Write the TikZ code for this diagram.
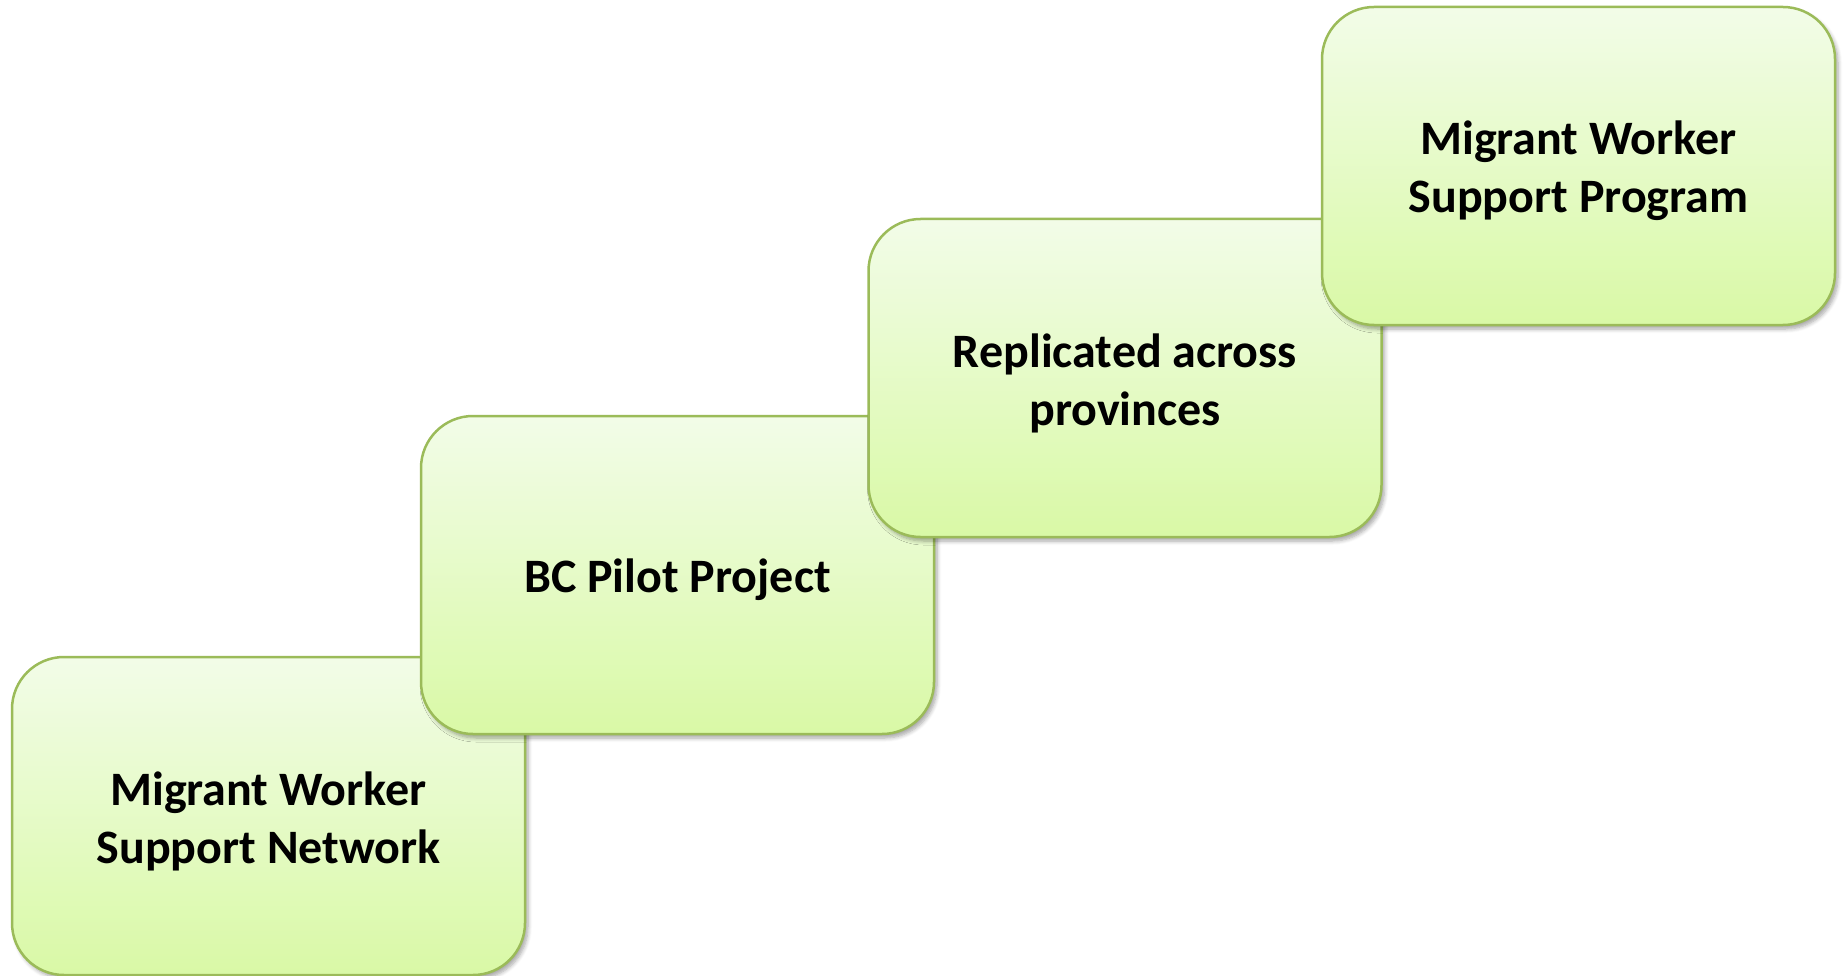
\documentclass[tikz,border=0pt]{standalone}
\usepackage{fontspec}
\setmainfont{Carlito}
\usetikzlibrary{shadows.blur}
\definecolor{boxline}{HTML}{9BBB59}
\definecolor{boxtop}{HTML}{F2FCE8}
\definecolor{boxbot}{HTML}{D9F9A6}
\tikzset{
  stepbox/.style={draw=boxline, line width=2.5pt, rounded corners=52pt,
    top color=boxtop, bottom color=boxbot,
    minimum width=513pt, minimum height=318pt, inner sep=0pt,
    blur shadow={shadow xshift=3pt, shadow yshift=-4pt, shadow blur steps=6, shadow opacity=35, shadow blur radius=4pt}},
  steplabel/.style={inner sep=0pt, align=center, font=\fontsize{48}{58}\selectfont\bfseries}
}
\begin{document}
\begin{tikzpicture}[x=1pt,y=-1pt]
\useasboundingbox (0,0) rectangle (1847,976);
\node[stepbox] (n1) at (268.5,816) {};
\node[steplabel] (t1) at ([yshift=-5pt]n1.center) {Migrant Worker\\Support Network};
\node[stepbox] (n2) at (677.5,575) {};
\node[steplabel] (t2) at ([yshift=-5pt]n2.center) {BC Pilot Project};
\node[stepbox] (n3) at (1125,378) {};
\node[steplabel] (t3) at ([yshift=-5pt]n3.center) {Replicated across\\provinces};
\node[stepbox] (n4) at (1578.5,166) {};
\node[steplabel] (t4) at ([yshift=-5pt]n4.center) {Migrant Worker\\Support Program};
\end{tikzpicture}
\end{document}
